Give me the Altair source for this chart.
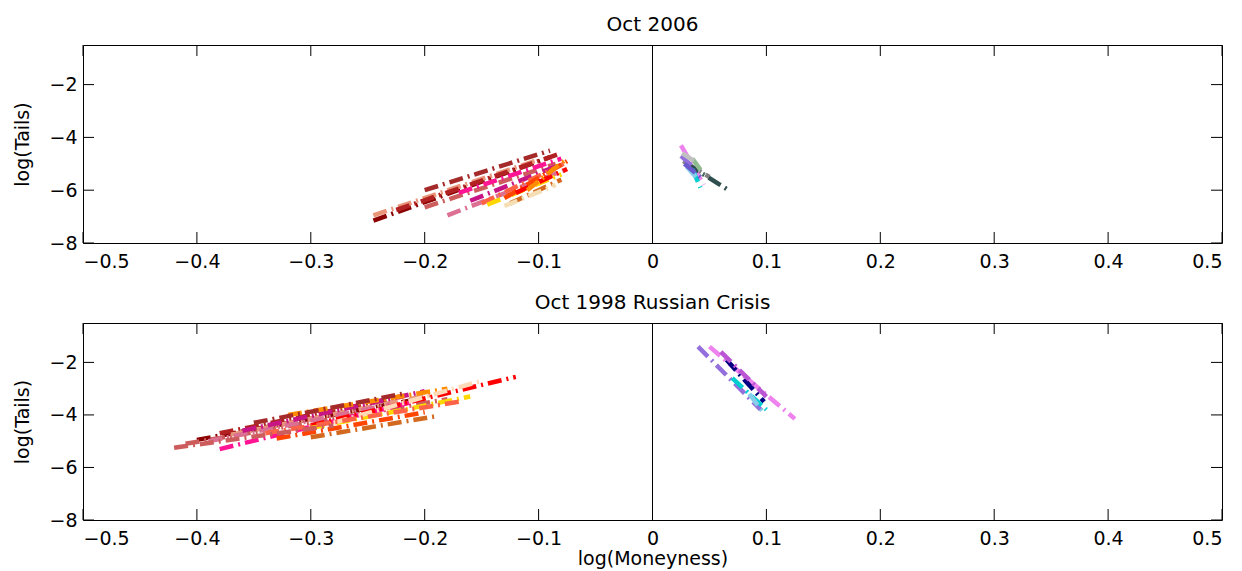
import altair as alt
import pandas as pd

# Axis ticks and ranges shared by both panels
X_TICKS = [-0.5, -0.4, -0.3, -0.2, -0.1, 0.0, 0.1, 0.2, 0.3, 0.4, 0.5]
Y_TICKS = [-8, -6, -4, -2]
X_DOMAIN = [-0.5, 0.5]
Y_DOMAIN = [-8, -0.5]

# Oct 2006: log-tail curves, each given by its end points (moneyness, log tail)
oct06_x0 = [-0.245, -0.245, -0.225, -0.200, -0.180, -0.170, -0.160, -0.150, -0.145, -0.130, -0.120, -0.125, -0.130, -0.110, -0.200,
            0.025, 0.027, 0.030, 0.035, 0.030, 0.035, 0.025, 0.028, 0.026]
oct06_y0 = [-7.15, -6.95, -6.75, -6.65, -6.95, -6.10, -6.40, -6.50, -6.55, -6.30, -6.10, -6.50, -6.60, -6.00, -6.00,
            -4.30, -4.90, -5.00, -5.20, -5.10, -4.80, -4.70, -5.00, -4.60]
oct06_x1 = [-0.090, -0.100, -0.080, -0.085, -0.075, -0.080, -0.085, -0.078, -0.080, -0.075, -0.075, -0.080, -0.085, -0.075, -0.090,
            0.045, 0.050, 0.065, 0.042, 0.040, 0.045, 0.035, 0.042, 0.040]
oct06_y1 = [-4.75, -4.85, -4.60, -5.00, -5.20, -4.80, -5.10, -5.00, -5.40, -4.90, -5.20, -5.60, -5.80, -4.80, -4.50,
            -5.80, -5.50, -5.95, -5.90, -5.60, -5.40, -5.10, -5.50, -5.00]
oct06_color = ["#8B0000", "#E9967A", "#B22222", "#CD5C5C", "#DB7093", "#FF1493", "#C71585", "#FF6347", "#FFD700",
               "#FF4500", "#FF0000", "#D2691E", "#F5DEB3", "#FF8C00", "#A52A2A",
               "#EE82EE", "#808080", "#2F4F4F", "#00CED1", "#87CEEB", "#8FBC8F", "#9370DB", "#6A5ACD", "#C0C0C0"]

# Oct 1998 (Russian crisis)
oct98_x0 = [-0.400, -0.380, -0.410, -0.370, -0.390, -0.380, -0.360, -0.320, -0.330, -0.300, -0.300, -0.300, -0.280, -0.340, -0.350, -0.420,
            0.040, 0.050, 0.065, 0.070, 0.085, 0.060]
oct98_y0 = [-4.95, -4.70, -5.10, -4.75, -5.00, -5.30, -4.60, -4.00, -4.90, -4.40, -4.50, -4.85, -4.30, -4.70, -4.30, -5.25,
            -1.40, -1.40, -1.90, -2.60, -3.20, -1.60]
oct98_x1 = [-0.200, -0.220, -0.180, -0.190, -0.230, -0.210, -0.200, -0.180, -0.200, -0.120, -0.160, -0.190, -0.150, -0.170, -0.220, -0.280,
            0.095, 0.125, 0.098, 0.100, 0.098, 0.100]
oct98_y1 = [-3.35, -3.30, -3.40, -3.20, -3.60, -3.50, -3.10, -3.00, -3.90, -2.55, -3.30, -4.05, -2.70, -3.50, -3.20, -4.40,
            -3.80, -4.15, -3.50, -3.80, -3.95, -3.30]
oct98_color = ["#8B0000", "#B22222", "#CD5C5C", "#E9967A", "#DB7093", "#FF1493", "#C71585", "#FF8C00", "#FF4500",
               "#FF0000", "#FFD700", "#D2691E", "#FFDAB9", "#FF6347", "#A52A2A", "#CD5C5C",
               "#9370DB", "#EE82EE", "#000080", "#00CED1", "#87CEEB", "#BA55D3"]

PANEL_W = 1139
TICK_LEN = 11
FONT = "DejaVu Sans"


def curves(x0, y0, x1, y1, colors):
    rows = []
    for i in range(len(x0)):
        rows.append({"id": i, "pt": 0, "x": x0[i], "y": y0[i], "color": colors[i]})
        rows.append({"id": i, "pt": 1, "x": x1[i], "y": y1[i], "color": colors[i]})
    return pd.DataFrame(rows)


def panel(df, title, height, x_title):
    x_axis_kw = dict(values=X_TICKS, format=".1~f", ticks=False, domain=False, grid=False,
                     labelPadding=9, titlePadding=1)
    x_axis_kw["title"] = x_title if x_title else ""
    xenc = alt.X("x:Q", scale=alt.Scale(domain=X_DOMAIN, nice=False, zero=False),
                 axis=alt.Axis(**x_axis_kw))
    yenc = alt.Y("y:Q", scale=alt.Scale(domain=Y_DOMAIN, nice=False, zero=False),
                 axis=alt.Axis(values=Y_TICKS, format="d", ticks=False, domain=False, grid=False,
                               labelPadding=6, titlePadding=16, title="log(Tails)"))

    lines = alt.Chart(df).mark_line(
        strokeWidth=4.5, strokeDash=[14, 5, 2, 5], strokeCap="butt", clip=True
    ).encode(
        x=xenc, y=yenc,
        color=alt.Color("color:N", scale=None),
        detail="id:N", order="pt:Q",
    )

    zero = alt.Chart(pd.DataFrame({"x": [0.0]})).mark_rule(color="black", strokeWidth=1).encode(x=xenc)

    xt = pd.DataFrame({"x": X_TICKS})
    yt = pd.DataFrame({"y": Y_TICKS})
    bottom_ticks = alt.Chart(xt).mark_rule(color="black").encode(
        x=xenc, y=alt.value(height), y2=alt.value(height - TICK_LEN))
    top_ticks = alt.Chart(xt).mark_rule(color="black").encode(
        x=xenc, y=alt.value(0), y2=alt.value(TICK_LEN))
    left_ticks = alt.Chart(yt).mark_rule(color="black").encode(
        y=yenc, x=alt.value(0), x2=alt.value(TICK_LEN))
    right_ticks = alt.Chart(yt).mark_rule(color="black").encode(
        y=yenc, x=alt.value(PANEL_W), x2=alt.value(PANEL_W - TICK_LEN))

    return alt.layer(lines, zero, bottom_ticks, top_ticks, left_ticks, right_ticks).properties(
        width=PANEL_W, height=height,
        title=alt.TitleParams(title, font=FONT, fontSize=20, fontWeight="normal", color="black",
                              anchor="middle", offset=10),
    )


top = panel(curves(oct06_x0, oct06_y0, oct06_x1, oct06_y1, oct06_color), "Oct 2006", 198, None)
bottom = panel(curves(oct98_x0, oct98_y0, oct98_x1, oct98_y1, oct98_color), "Oct 1998 Russian Crisis", 197,
               "log(Moneyness)")

chart = alt.vconcat(top, bottom, spacing=80, bounds="flush").properties(
    padding={"left": 13, "top": 14, "right": 5, "bottom": 2},
    background="white",
).configure_view(
    stroke="black", strokeWidth=1
).configure_axis(
    labelFont=FONT, labelFontSize=19, labelColor="black",
    titleFont=FONT, titleFontSize=19, titleFontWeight="normal", titleColor="black",
)

chart.save("out.html", embed_options={"renderer": "svg", "actions": False})
